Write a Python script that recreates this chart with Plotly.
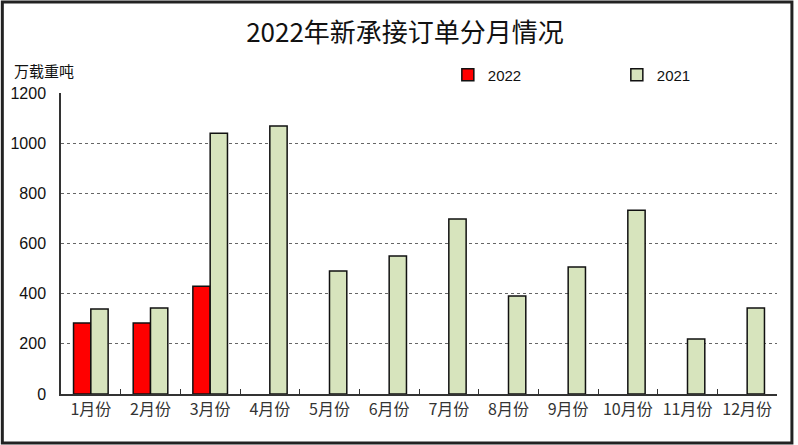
import plotly.graph_objects as go

months = ["1月份", "2月份", "3月份", "4月份", "5月份", "6月份",
          "7月份", "8月份", "9月份", "10月份", "11月份", "12月份"]
v2022 = [283, 283, 430, None, None, None, None, None, None, None, None, None]
v2021 = [339, 343, 1040, 1068, 490, 550, 698, 391, 506, 733, 219, 343]
y_ticks = [0, 200, 400, 600, 800, 1000, 1200]

W, H = 798, 445
L, R, T, B = 61, 17, 93, 51
pw, ph = W - L - R, H - T - B

fig = go.Figure()
fig.add_bar(x=months, y=v2022, name="2022",
            marker=dict(color="#ff0000", line=dict(color="#111111", width=1.5)))
fig.add_bar(x=months, y=v2021, name="2021",
            marker=dict(color="#d7e4bd", line=dict(color="#111111", width=1.5)))

fig.update_layout(
    width=W, height=H,
    margin=dict(l=L, r=R, t=T, b=B),
    paper_bgcolor="white", plot_bgcolor="white",
    barmode="group", bargap=0.42, bargroupgap=0,
    font=dict(family="Noto Sans CJK SC, Arial", color="#111111"),
    title=dict(text="2022年新承接订单分月情况", x=(405) / W, xanchor="center",
               y=1 - 33 / H, yanchor="middle",
               font=dict(size=26, color="#111111", family="Noto Sans CJK SC")),
    legend=dict(orientation="h", x=(450 - L) / pw, xanchor="left",
                y=1 + (T - 75) / ph, yanchor="middle",
                entrywidth=124, entrywidthmode="pixels", itemwidth=30,
                font=dict(size=15, family="Liberation Sans Narrow, Arial"),
                bgcolor="rgba(0,0,0,0)", traceorder="normal"),
    showlegend=True,
)
fig.update_xaxes(
    type="category", showline=True, linecolor="#333333", linewidth=1.5,
    ticks="inside", tickson="boundaries", ticklen=5, tickcolor="#333333",
    showgrid=False, tickangle=0, automargin=False,
    tickfont=dict(size=16, family="Noto Sans CJK SC", color="#333333"),
)
fig.update_yaxes(
    range=[0, 1200], tickvals=y_ticks, showline=True, linecolor="#333333",
    linewidth=1.5, showgrid=True, gridcolor="#666666", griddash="dot",
    gridwidth=1, zeroline=False, ticks="", ticklabelstandoff=10,
    automargin=False,
    tickfont=dict(size=16, family="Liberation Sans, Arial", color="#111111"),
)
fig.add_annotation(text="万载重吨", xref="paper", yref="paper",
                   x=(12 - L) / pw, xanchor="left",
                   y=1 + (T - 70) / ph, yanchor="middle",
                   showarrow=False, font=dict(size=15, color="#111111"))
fig.add_shape(type="rect", xref="paper", yref="paper",
              x0=(2 - L) / pw, x1=(W - 2 - L) / pw,
              y0=-(B - 2) / ph, y1=1 + (T - 2) / ph,
              line=dict(color="#222222", width=3), layer="above")
fig.write_html("out.html", config={"displayModeBar": False},
               post_script="document.body.style.margin='0';")
